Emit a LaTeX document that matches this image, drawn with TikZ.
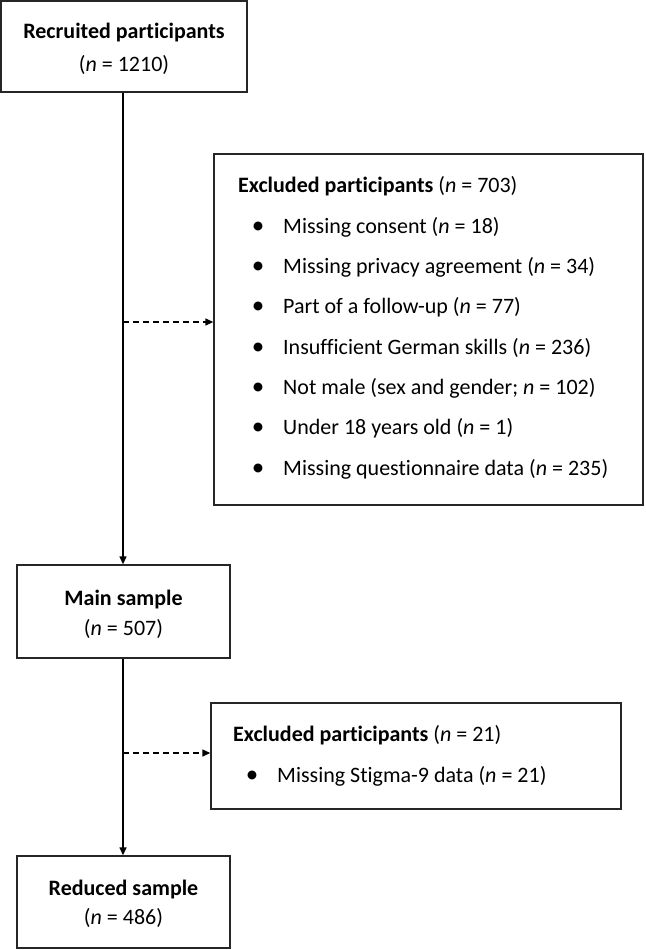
\documentclass[tikz,border=0pt]{standalone}
\usepackage{fontspec}
\setmainfont[Ligatures=NoCommon]{Carlito}
\usetikzlibrary{arrows.meta}
\begin{document}
\begin{tikzpicture}[x=1pt,y=-1pt,
  box/.style={draw=black!85, line width=1.4pt, inner sep=0pt},
  ctxt/.style={inner sep=0pt, anchor=base, font=\fontsize{22}{26}\selectfont},
  txt/.style={inner sep=0pt, anchor=base west, font=\fontsize{22}{26}\selectfont},
  bul/.style={inner sep=0pt, anchor=base, font=\fontsize{25}{26}\selectfont},
  arr/.style={line width=1.4pt, -{Triangle[length=8pt,width=7pt]}},
  dashline/.style={dash pattern=on 6pt off 4pt}]
\useasboundingbox (0,0) rectangle (645,950);
% main flow boxes
\node[box, minimum width=246pt, minimum height=91pt] (rec) at (124,46.5) {};
\node[ctxt] (rect) at (124,39) {\textbf{Recruited participants}};
\node[ctxt] (recn) at (124,71) {(\textit{n} = 1210)};
\node[box, minimum width=213pt, minimum height=93pt] (main) at (123.5,611.5) {};
\node[ctxt] (maint) at (123.5,605.5) {\textbf{Main sample}};
\node[ctxt] (mainn) at (123.5,635) {(\textit{n} = 507)};
\node[box, minimum width=213pt, minimum height=92pt] (red) at (123.5,902) {};
\node[ctxt] (redt) at (123.5,895) {\textbf{Reduced sample}};
\node[ctxt] (redn) at (123.5,924) {(\textit{n} = 486)};
% exclusion boxes
\node[box, minimum width=429pt, minimum height=351pt] (ex1) at (428.5,329.5) {};
\node[box, minimum width=410pt, minimum height=106pt] (ex2) at (416,756) {};
% texts of first exclusion box
\node[txt] (t1) at (238,192) {\textbf{Excluded participants} (\textit{n} = 703)};
\node[bul] (b1) at (258,233) {•};
\node[txt] (i1) at (283,233) {Missing consent (\textit{n} = 18)};
\node[bul] (b2) at (258,273.3) {•};
\node[txt] (i2) at (283,273.3) {Missing privacy agreement (\textit{n} = 34)};
\node[bul] (b3) at (258,313.7) {•};
\node[txt] (i3) at (283,313.7) {Part of a follow-up (\textit{n} = 77)};
\node[bul] (b4) at (258,354) {•};
\node[txt] (i4) at (283,354) {Insufficient German skills (\textit{n} = 236)};
\node[bul] (b5) at (258,394.3) {•};
\node[txt] (i5) at (283,394.3) {Not male (sex and gender; \textit{n} = 102)};
\node[bul] (b6) at (258,434.7) {•};
\node[txt] (i6) at (283,434.7) {Under 18 years old (\textit{n} = 1)};
\node[bul] (b7) at (258,475) {•};
\node[txt] (i7) at (283,475) {Missing questionnaire data (\textit{n} = 235)};
% texts of second exclusion box
\node[txt] (t2) at (233,741.5) {\textbf{Excluded participants} (\textit{n} = 21)};
\node[bul] (b8) at (252,782.5) {•};
\node[txt] (i8) at (277,782.5) {Missing Stigma-9 data (\textit{n} = 21)};
% connectors
\coordinate (s1) at (123,322);
\coordinate (s2) at (123,753);
\draw[arr] (rec.south -| s1) -- (main.north -| s1);
\draw[arr, dashline] (s1) -- (s1 -| ex1.west);
\draw[arr] (main.south -| s2) -- (red.north -| s2);
\draw[arr, dashline] (s2) -- (s2 -| ex2.west);
\end{tikzpicture}
\end{document}
